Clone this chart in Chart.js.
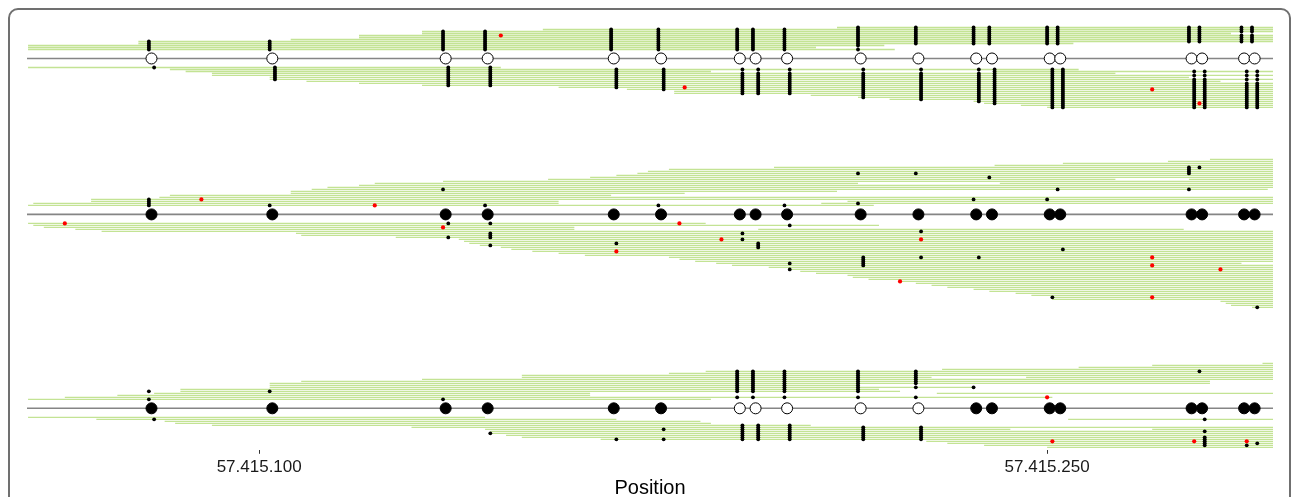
<!DOCTYPE html>
<html>
<head>
<meta charset="utf-8">
<script src="https://cdn.jsdelivr.net/npm/chart.js@4.4.1/dist/chart.umd.min.js"></script>
<style>
html, body { margin: 0; padding: 0; background: #fff; overflow: hidden; }
#wrap { position: relative; width: 1293px; height: 497px; }
#frame { position: absolute; left: 8px; top: 8px; width: 1283px; height: 530px; border: 2px solid #707070; border-radius: 10px; box-sizing: border-box; }
canvas { position: absolute; left: 0; top: 0; }
</style>
</head>
<body>
<div id="wrap">
  <div id="frame"></div>
  <canvas id="chart" width="1293" height="497"></canvas>
</div>
<script>
// positions are bp offsets from 57.415.000
const cpgPos = [79, 102, 135, 143, 167, 176, 191, 194, 200, 214, 225, 236, 239, 250, 252, 277, 279, 287, 289];
const xTicks = [100, 250];
const xTickLabels = ['57.415.100', '57.415.250'];
const xMin = 55.8, xMax = 293;

// 1 = open circle (reads methylated at that CpG), 0 = filled circle
const meth1 = [1, 1, 1, 1, 1, 1, 1, 1, 1, 1, 1, 1, 1, 1, 1, 1, 1, 1, 1];
const meth2 = [0, 0, 0, 0, 0, 0, 0, 0, 0, 0, 0, 0, 0, 0, 0, 0, 0, 0, 0];
const meth3 = [0, 0, 0, 0, 0, 0, 1, 1, 1, 1, 1, 0, 0, 0, 0, 0, 0, 0, 0];

// reads: [row from centre, start, end]
const reads1Top = [[1, 56, 221], [2, 56, 206], [3, 56, 219], [4, 77, 255], [5, 77, 293], [6, 106, 293],
    [7, 119, 293], [8, 119, 293], [9, 131, 285], [10, 131, 293], [11, 154, 293], [12, 210, 293]];
const reads1Bottom = [[1, 56, 146], [2, 83, 256], [3, 86, 186], [3, 240, 293], [4, 91, 263], [5, 91, 293],
    [6, 102, 277], [7, 102, 293], [8, 109, 283], [9, 119, 293], [10, 131, 293], [11, 157, 293], [12, 170, 293],
    [13, 179, 293], [14, 179, 293], [15, 205, 293], [16, 214, 293], [17, 220, 293], [18, 236, 293],
    [19, 238, 293], [20, 245, 293], [21, 250, 293]];

const reads2Top = [[1, 56, 217], [2, 57, 157], [2, 207, 293], [3, 68, 157], [3, 212, 293], [4, 68, 293],
    [5, 81, 293], [6, 83, 167], [7, 106, 181], [8, 106, 210], [9, 110, 292], [10, 113, 293], [11, 119, 293],
    [12, 122, 214], [12, 241, 293], [13, 135, 293], [14, 155, 263], [14, 277, 293], [15, 163, 293],
    [16, 168, 293], [17, 172, 293], [18, 174, 293], [19, 178, 293], [20, 198, 293], [21, 240, 293],
    [22, 253, 293], [23, 273, 293], [24, 281, 293]];
const reads2Bottom = [[1, 56, 185], [2, 57, 218], [3, 59, 160], [4, 65, 160], [4, 195, 276], [5, 70, 293],
    [6, 107, 293], [7, 108, 293], [8, 126, 293], [9, 138, 293], [10, 139, 293], [11, 140, 293], [12, 142, 293],
    [13, 146, 293], [14, 148, 293], [15, 152, 293], [16, 157, 293], [17, 162, 293], [18, 178, 293],
    [19, 180, 293], [20, 183, 293], [21, 187, 287], [22, 190, 293], [23, 197, 293], [24, 201, 293],
    [25, 203, 293], [26, 206, 293], [27, 212, 293], [28, 213, 293], [29, 216, 293], [30, 222, 293],
    [31, 225, 293], [32, 228, 293], [33, 231, 293], [34, 236, 293], [35, 239, 293], [36, 244, 293],
    [37, 247, 293], [38, 251, 293], [39, 251, 293], [40, 283, 293], [41, 284, 293], [42, 285, 293],
    [43, 289, 293]];

const reads3Top = [[1, 56, 186], [2, 63, 251], [3, 73, 163], [4, 80, 163], [4, 229, 293], [5, 85, 222],
    [6, 85, 218], [7, 102, 236], [8, 102, 214], [9, 102, 281], [10, 108, 281], [11, 131, 293],
    [12, 150, 228], [12, 246, 293], [13, 150, 293], [14, 178, 293], [15, 185, 293], [16, 230, 293],
    [17, 256, 293], [18, 270, 293], [19, 291, 293]];
const reads3Bottom = [[1, 56, 143], [2, 69, 168], [2, 254, 293], [3, 82, 184], [4, 84, 186], [5, 91, 205],
    [6, 129, 293], [7, 143, 243], [7, 270, 293], [8, 144, 293], [9, 144, 293], [10, 147, 293],
    [11, 150, 293], [12, 165, 293], [13, 227, 293], [14, 231, 293], [15, 238, 293], [16, 250, 293]];

// single methylated calls: [strand (1 top, -1 bottom), row, CpG index]
const black1 = [];
const black2 = [[1, 1, 0], [1, 2, 0], [1, 3, 0], [1, 4, 0], [1, 1, 1], [1, 9, 2], [1, 1, 3], [1, 1, 5],
    [1, 1, 8], [1, 2, 9], [1, 17, 9], [1, 17, 10], [1, 4, 11], [1, 15, 12], [1, 4, 13], [1, 9, 14],
    [1, 17, 15], [1, 18, 15], [1, 19, 15], [1, 20, 15], [1, 9, 15], [1, 20, 16],
    [-1, 1, 2], [-1, 8, 2], [-1, 1, 3], [-1, 6, 3], [-1, 7, 3], [-1, 8, 3], [-1, 12, 3], [-1, 11, 4],
    [-1, 6, 6], [-1, 9, 6], [-1, 11, 7], [-1, 12, 7], [-1, 13, 7], [-1, 2, 8], [-1, 21, 8], [-1, 24, 8],
    [-1, 18, 9], [-1, 19, 9], [-1, 20, 9], [-1, 21, 9], [-1, 22, 9], [-1, 5, 10], [-1, 18, 10],
    [-1, 18, 11], [-1, 14, 14], [-1, 38, 13], [-1, 43, 18]];
const black3 = [[1, 1, 0], [1, 5, 0], [1, 5, 1], [1, 1, 2], [1, 7, 11], [1, 15, 16],
    [-1, 2, 0], [-1, 9, 3], [-1, 12, 4], [-1, 7, 5], [-1, 12, 5], [-1, 2, 16], [-1, 8, 16], [-1, 11, 16],
    [-1, 12, 16], [-1, 13, 16], [-1, 14, 16], [-1, 15, 16], [-1, 15, 17], [-1, 14, 18]];

// mismatches: [strand, row, position]
const red1 = [[1, 8, 146], [-1, 11, 181], [-1, 12, 270], [-1, 19, 279]];
const red2 = [[1, 4, 89], [1, 1, 122], [-1, 1, 63], [-1, 3, 135], [-1, 15, 168], [-1, 1, 180], [-1, 9, 188],
    [-1, 9, 226], [-1, 30, 222], [-1, 18, 270], [-1, 22, 270], [-1, 38, 270], [-1, 24, 283]];
const red3 = [[1, 2, 250], [-1, 13, 251], [-1, 13, 278], [-1, 13, 288]];

const panels = [
    { center: 20, top: reads1Top, bottom: reads1Bottom, meth: meth1, black: black1, red: red1 },
    { center: 98, top: reads2Top, bottom: reads2Bottom, meth: meth2, black: black2, red: red2 },
    { center: 195, top: reads3Top, bottom: reads3Bottom, meth: meth3, black: black3, red: red3 }
];

function rowY(p, strand, row) {
    return p.center - strand * (4.5 + row - 1);
}
function dotX(strand, i) {
    return strand === 1 ? cpgPos[i] : cpgPos[i] + 1;
}

const readPts = [], axisPts = [], circlePts = [], circleFill = [], blackPts = [], redPts = [];
panels.forEach(p => {
    [[1, p.top], [-1, p.bottom]].forEach(([strand, reads]) => {
        reads.forEach(([row, s, e]) => {
            const y = rowY(p, strand, row);
            readPts.push({ x: s, y }, { x: e, y }, { x: e, y: null });
            cpgPos.forEach((c, i) => {
                const pos = dotX(strand, i);
                if (p.meth[i] && pos >= s && pos <= e) blackPts.push({ x: pos, y });
            });
        });
    });
    p.black.forEach(([strand, row, i]) => blackPts.push({ x: dotX(strand, i), y: rowY(p, strand, row) }));
    p.red.forEach(([strand, row, pos]) => redPts.push({ x: pos, y: rowY(p, strand, row) }));
    axisPts.push({ x: xMin, y: p.center }, { x: xMax, y: p.center }, { x: xMax, y: null });
    cpgPos.forEach((c, i) => {
        circlePts.push({ x: c + 0.5, y: p.center });
        circleFill.push(p.meth[i] ? '#ffffff' : '#000000');
    });
});

const ctx = document.getElementById('chart').getContext('2d');
new Chart(ctx, {
    type: 'scatter',
    data: {
        datasets: [
            {
                data: circlePts, order: 0,
                pointRadius: 5.5, pointBackgroundColor: circleFill,
                pointBorderColor: '#000', pointBorderWidth: 1
            },
            { data: redPts, order: 1, pointRadius: 2.1, pointBackgroundColor: '#ff0000', pointBorderWidth: 0 },
            { data: blackPts, order: 2, pointRadius: 1.9, pointBackgroundColor: '#000', pointBorderWidth: 0 },
            {
                data: axisPts, order: 3, showLine: true, spanGaps: false,
                borderColor: '#858585', borderWidth: 1.6, pointRadius: 0
            },
            {
                data: readPts, order: 4, showLine: true, spanGaps: false,
                borderColor: '#c3e394', borderWidth: 1.3, pointRadius: 0
            }
        ]
    },
    options: {
        responsive: false,
        animation: false,
        devicePixelRatio: 1,
        events: [],
        layout: { padding: { top: 18, left: 27, right: 20, bottom: 0 } },
        plugins: { legend: { display: false }, tooltip: { enabled: false } },
        scales: {
            x: {
                type: 'linear',
                min: xMin,
                max: xMax,
                afterBuildTicks: axis => { axis.ticks = xTicks.map(v => ({ value: v })); },
                ticks: {
                    color: '#1a1a1a',
                    padding: 3,
                    font: { family: 'Liberation Sans', size: 17 },
                    callback: v => xTickLabels[xTicks.indexOf(v)]
                },
                grid: { display: true, drawOnChartArea: false, drawTicks: true, tickLength: 4, tickColor: '#333', tickWidth: 1 },
                border: { display: false },
                title: {
                    display: true,
                    text: 'Position',
                    color: '#000',
                    font: { family: 'Liberation Sans', size: 20, lineHeight: 0.84 },
                    padding: { top: 0, bottom: 0 }
                }
            },
            y: {
                type: 'linear',
                display: false,
                reverse: true,
                min: -0.25,
                max: 215.75
            }
        }
    }
});
</script>
</body>
</html>
